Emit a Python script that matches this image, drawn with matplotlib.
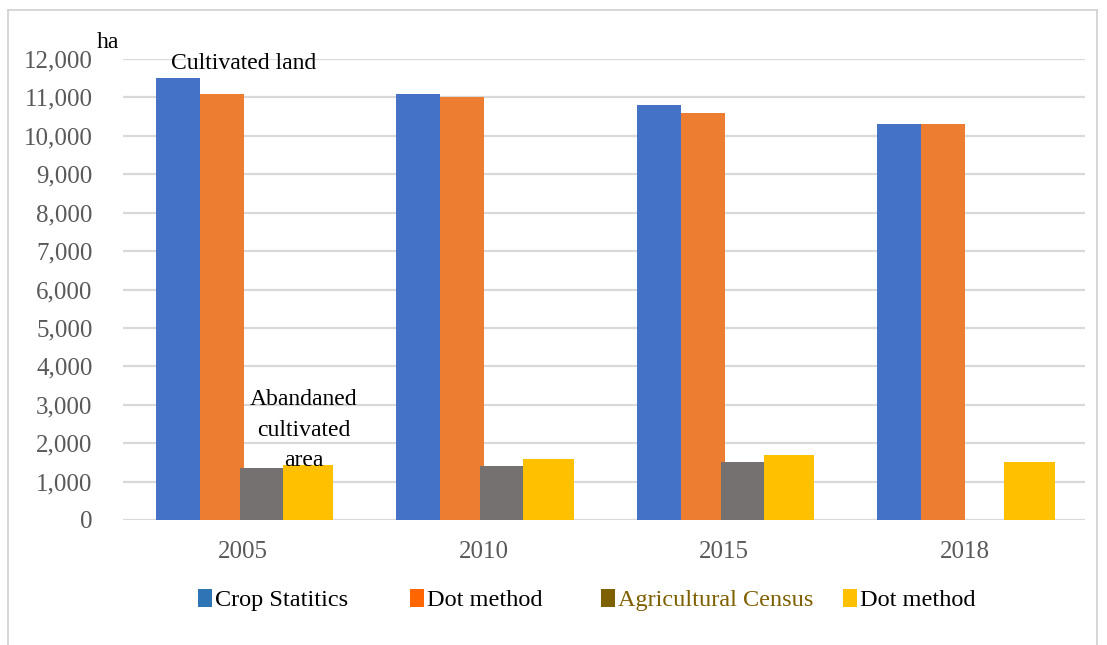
import matplotlib.pyplot as plt
import numpy as np
from matplotlib.patches import Patch
from matplotlib.lines import Line2D

# ------------------------------
# Data
# ------------------------------
years = ["2005", "2010", "2015", "2018"]
crop_statistics = [11500, 11100, 10800, 10300]
dot_cultivated = [11100, 11000, 10600, 10300]
agri_census = [1350, 1400, 1500, 0]
dot_abandoned = [1430, 1600, 1700, 1500]

legend_labels = ["Crop Statitics", "Dot method", "Agricultural Census", "Dot method"]
legend_colors = ["#2E75B6", "#FF6600", "#7F6000", "#FFC000"]
legend_text_colors = ["#000000", "#000000", "#7F6000", "#000000"]

bar_colors = ["#4472C4", "#ED7D31", "#767171", "#FFC000"]

plt.rcParams["font.family"] = ["Liberation Serif", "DejaVu Serif"]

W, H = 1107, 645
fig = plt.figure(figsize=(W / 100, H / 100), dpi=100)

# outer frame of the original screenshot (left, top, right only)
frame_col = "#D0D0D0"
fig.add_artist(Line2D([8 / W, 8 / W], [0, (H - 10) / H], transform=fig.transFigure,
                      color=frame_col, lw=1.2))
fig.add_artist(Line2D([8 / W, 1097 / W], [(H - 10) / H, (H - 10) / H],
                      transform=fig.transFigure, color=frame_col, lw=1.2))
fig.add_artist(Line2D([1097 / W, 1097 / W], [0, (H - 10) / H], transform=fig.transFigure,
                      color=frame_col, lw=1.2))

ax = fig.add_axes([123 / W, (H - 520) / H, (1085 - 123) / W, (520 - 59) / H])

x = np.arange(len(years))
w = 0.183
ax.bar(x - 0.272, crop_statistics, w, color=bar_colors[0], zorder=3)
ax.bar(x - 0.09, dot_cultivated, w, color=bar_colors[1], zorder=3)
ax.bar(x + 0.077, agri_census, w, color=bar_colors[2], zorder=3)
ax.bar(x + 0.27, dot_abandoned, 0.21, color=bar_colors[3], zorder=3)

ax.set_xlim(-0.5, 3.5)
ax.set_ylim(0, 12000)
ax.set_yticks(np.arange(0, 12001, 1000))
ax.set_yticklabels([f"{v:,}" for v in range(0, 12001, 1000)])
ax.set_xticks(x)
ax.set_xticklabels(years)
ax.tick_params(axis="both", length=0, labelsize=18, labelcolor="#595959")
ax.tick_params(axis="y", pad=22)
ax.tick_params(axis="x", pad=15)
ax.yaxis.grid(True, color="#D9D9D9", linewidth=1.6, zorder=0)
ax.set_axisbelow(True)
for s in ax.spines.values():
    s.set_visible(False)

# annotations
ax.text(0, 11875, "Cultivated land", ha="center", va="center", fontsize=17)
ax.text(0.25, 2340, "Abandaned\ncultivated\narea", ha="center", va="center",
        fontsize=17, linespacing=1.6)
fig.text(97 / W, (H - 43) / H, "ha", ha="left", va="center", fontsize=17)

# legend, one entry at a time to follow the uneven spacing
leg_x = [198, 410, 601, 843]
for lx, lab, col, tcol in zip(leg_x, legend_labels, legend_colors, legend_text_colors):
    leg = fig.legend(handles=[Patch(facecolor=col)], labels=[lab],
                     loc="center left", bbox_to_anchor=(lx / W, (H - 600) / H),
                     frameon=False, fontsize=17.5, handlelength=0.58,
                     handleheight=0.75, handletextpad=0.1, borderaxespad=0,
                     borderpad=0)
    leg.get_texts()[0].set_color(tcol)

fig.savefig("out.png", dpi=100)
